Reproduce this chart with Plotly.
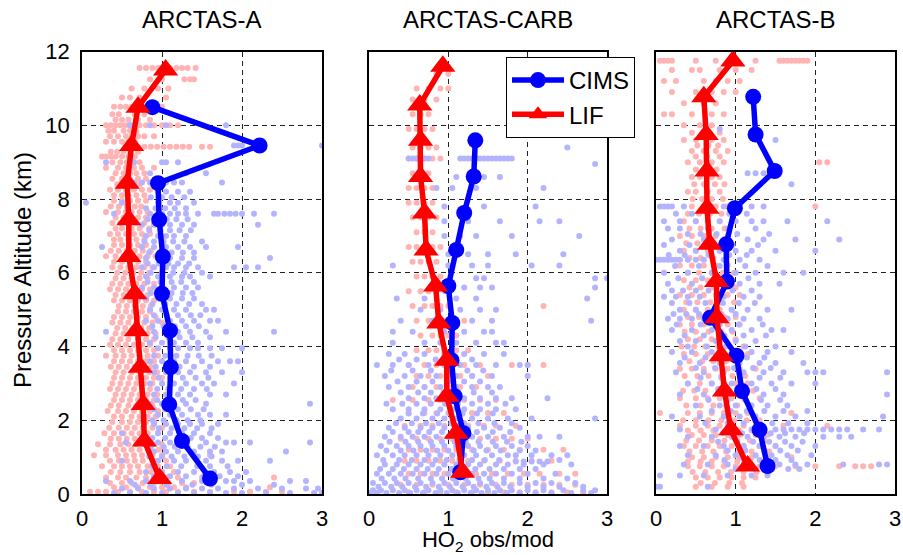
import plotly.graph_objects as go

W, H = 903, 555
PANEL_TITLES = ["ARCTAS-A", "ARCTAS-CARB", "ARCTAS-B"]
X_TICKS = [0, 1, 2, 3]
Y_TICKS = [0, 2, 4, 6, 8, 10, 12]
X_TITLE = "HO<sub>2</sub> obs/mod"
Y_TITLE = "Pressure Altitude (km)"

# ---- mean profiles ----
A_CIMS_ALT = [0.42, 1.44, 2.43, 3.44, 4.43, 5.43, 6.44, 7.44, 8.43, 9.45, 10.49]
A_CIMS_X = [1.60, 1.25, 1.09, 1.11, 1.10, 1.00, 1.01, 0.965, 0.95, 2.22, 0.88]
A_LIF_ALT = [0.42, 1.44, 2.43, 3.44, 4.43, 5.43, 6.44, 7.44, 8.43, 9.45, 10.49, 11.5]
A_LIF_X = [0.97, 0.78, 0.765, 0.73, 0.68, 0.66, 0.585, 0.585, 0.565, 0.62, 0.70, 1.045]

C_CIMS_ALT = [0.59, 1.65, 2.65, 3.63, 4.64, 5.64, 6.62, 7.62, 8.61, 9.59]
C_CIMS_X = [1.15, 1.19, 1.08, 1.04, 1.05, 1.00, 1.10, 1.20, 1.32, 1.34]
C_LIF_ALT = [0.59, 1.65, 2.65, 3.63, 4.64, 5.64, 6.62, 7.62, 8.61, 9.59, 10.55, 11.6]
C_LIF_X = [1.18, 1.10, 0.98, 0.98, 0.88, 0.84, 0.72, 0.70, 0.65, 0.65, 0.64, 0.93]

B_CIMS_ALT = [0.76, 1.74, 2.79, 3.75, 4.78, 5.76, 6.77, 7.75, 8.76, 9.75, 10.77]
B_CIMS_X = [1.40, 1.30, 1.08, 1.01, 0.68, 0.89, 0.88, 0.99, 1.49, 1.25, 1.22]
B_LIF_ALT = [0.76, 1.74, 2.79, 3.75, 4.78, 5.76, 6.77, 7.75, 8.76, 9.75, 10.77, 11.74]
B_LIF_X = [1.15, 0.94, 0.86, 0.82, 0.765, 0.76, 0.675, 0.64, 0.64, 0.63, 0.60, 0.965]

# ---- individual points, rows of (altitude, [ratios]) ----
A_LIF_PTS = [
    (11.55, [0.72, 0.8, 0.88, 0.95, 1.02, 1.1, 1.18, 1.25, 1.32, 1.42]),
    (11.25, [0.85, 1.0, 1.28, 1.35, 1.4]),
    (11.0, [0.62, 0.78, 0.95, 1.08]),
    (10.75, [0.5, 0.6, 0.72, 1.05]),
    (10.5, [0.4, 0.48, 0.55, 0.62, 0.68, 1.0]),
    (10.3, [0.38, 0.46, 0.66, 0.78]),
    (10.15, [0.42, 0.5, 0.58, 0.7, 0.85]),
    (10.0, [0.3, 0.36, 0.42, 0.48, 0.54, 0.6, 0.66, 0.72, 0.8, 0.9, 1.0, 1.1, 1.2]),
    (9.85, [0.33, 0.4, 0.52, 0.6, 0.68]),
    (9.7, [0.35, 0.45, 0.55, 0.62, 0.7, 0.78, 0.9]),
    (9.55, [0.3, 0.4, 0.5, 0.58, 0.66]),
    (9.42, [0.55, 0.62, 0.7, 0.78, 0.86, 0.94, 1.02, 1.1, 1.18, 1.26, 1.34, 1.5, 1.6]),
    (9.28, [0.36, 0.44, 0.52, 0.6, 0.7]),
    (9.15, [0.25, 0.3, 0.36, 0.42, 0.5, 0.58, 0.66]),
    (9.0, [0.38, 0.48, 0.56, 0.64, 0.72]),
    (8.85, [0.3, 0.45, 0.55, 0.65, 0.75, 0.9]),
    (8.7, [0.42, 0.52, 0.6, 0.68, 0.78]),
    (8.55, [0.38, 0.5, 0.6, 0.7, 0.8]),
    (8.4, [0.44, 0.54, 0.62, 0.72]),
    (8.25, [0.35, 0.45, 0.55, 0.65, 0.75, 0.85]),
    (8.1, [0.4, 0.5, 0.58, 0.68, 0.78]),
    (7.95, [0.4, 0.5, 0.6, 0.7, 0.8]),
    (7.8, [0.36, 0.46, 0.56, 0.66, 0.74]),
    (7.65, [0.3, 0.45, 0.55, 0.62, 0.72, 0.82]),
    (7.5, [0.42, 0.52, 0.6, 0.7, 0.8]),
    (7.35, [0.38, 0.48, 0.58, 0.68, 0.78, 0.9]),
    (7.2, [0.42, 0.5, 0.62, 0.72, 0.84]),
    (7.05, [0.35, 0.45, 0.55, 0.65, 0.75, 0.85]),
    (6.9, [0.4, 0.48, 0.58, 0.68, 0.78]),
    (6.75, [0.4, 0.5, 0.6, 0.7, 0.8]),
    (6.6, [0.36, 0.46, 0.56, 0.66, 0.76, 0.86]),
    (6.45, [0.3, 0.42, 0.52, 0.62, 0.72, 0.82, 0.92]),
    (6.3, [0.4, 0.5, 0.6, 0.7, 0.8]),
    (6.15, [0.38, 0.48, 0.58, 0.68, 0.78, 0.88]),
    (6.0, [0.44, 0.54, 0.64, 0.74, 0.84]),
    (5.85, [0.42, 0.52, 0.62, 0.72, 0.82]),
    (5.7, [0.38, 0.48, 0.58, 0.68, 0.78, 0.9]),
    (5.55, [0.35, 0.45, 0.55, 0.65, 0.75, 0.85, 0.95]),
    (5.4, [0.42, 0.52, 0.62, 0.72, 0.82]),
    (5.25, [0.4, 0.5, 0.6, 0.7, 0.8, 0.9]),
    (5.1, [0.46, 0.56, 0.66, 0.76, 0.86]),
    (4.95, [0.45, 0.55, 0.65, 0.75, 0.85]),
    (4.8, [0.4, 0.5, 0.6, 0.7, 0.8, 0.92]),
    (4.65, [0.38, 0.48, 0.58, 0.68, 0.78, 0.88, 1.0]),
    (4.5, [0.44, 0.54, 0.64, 0.74, 0.84]),
    (4.35, [0.42, 0.52, 0.62, 0.72, 0.82, 0.92]),
    (4.2, [0.38, 0.48, 0.58, 0.7, 0.8, 0.9]),
    (4.05, [0.35, 0.45, 0.55, 0.65, 0.75, 0.85]),
    (3.9, [0.4, 0.5, 0.6, 0.7, 0.8, 0.9]),
    (3.75, [0.3, 0.42, 0.52, 0.62, 0.72, 0.82, 0.95]),
    (3.6, [0.4, 0.5, 0.6, 0.7, 0.8, 0.9]),
    (3.45, [0.36, 0.46, 0.56, 0.66, 0.76, 0.86]),
    (3.3, [0.42, 0.52, 0.62, 0.72, 0.84, 0.94]),
    (3.15, [0.4, 0.5, 0.6, 0.7, 0.8, 0.9, 1.0]),
    (3.0, [0.38, 0.48, 0.58, 0.68, 0.78, 0.88]),
    (2.85, [0.35, 0.45, 0.55, 0.65, 0.75, 0.85]),
    (2.7, [0.42, 0.52, 0.62, 0.72, 0.82, 0.94]),
    (2.55, [0.4, 0.5, 0.6, 0.7, 0.8, 0.9, 1.05]),
    (2.4, [0.36, 0.46, 0.58, 0.68, 0.78, 0.88]),
    (2.25, [0.32, 0.45, 0.55, 0.65, 0.75, 0.85, 0.95]),
    (2.1, [0.4, 0.5, 0.62, 0.72, 0.82, 0.92]),
    (1.95, [0.38, 0.5, 0.6, 0.7, 0.8, 0.9]),
    (1.8, [0.34, 0.46, 0.56, 0.66, 0.76, 0.88, 1.0]),
    (1.65, [0.28, 0.4, 0.52, 0.62, 0.72, 0.82, 0.95]),
    (1.5, [0.36, 0.46, 0.56, 0.66, 0.76, 0.86]),
    (1.35, [0.2, 0.35, 0.48, 0.58, 0.68, 0.78, 0.9, 1.0]),
    (1.2, [0.3, 0.42, 0.52, 0.62, 0.72, 0.84, 0.96]),
    (1.05, [0.15, 0.3, 0.45, 0.55, 0.65, 0.75, 0.88, 1.0, 1.6]),
    (0.9, [0.35, 0.46, 0.56, 0.66, 0.76, 0.9, 1.05]),
    (0.75, [0.25, 0.4, 0.5, 0.6, 0.7, 0.82, 0.95, 1.1]),
    (0.6, [0.36, 0.48, 0.6, 0.72, 0.86, 1.0, 1.15]),
    (0.45, [0.3, 0.45, 0.55, 0.68, 0.8, 0.92, 1.05, 1.2, 1.5, 2.4]),
    (0.3, [0.35, 0.5, 0.62, 0.76, 0.9, 1.08, 1.25, 1.4]),
    (0.18, [0.4, 0.55, 0.7, 0.85, 1.0, 1.15, 1.3, 2.35]),
    (0.06, [0.1, 0.2, 0.3, 0.45, 0.6, 0.75, 0.9, 1.05, 1.2, 1.4, 1.6, 1.9, 2.1, 2.3, 2.5]),
]
A_CIMS_PTS = [
    (10.0, [0.6, 0.85, 1.05, 1.8]),
    (9.45, [0.65, 1.9, 1.95, 2.0, 3.0]),
    (9.0, [0.3, 0.65, 1.0, 1.05, 1.2]),
    (8.7, [0.85, 1.3, 1.55]),
    (8.45, [0.5, 0.65, 0.75, 0.85, 1.05, 1.15, 1.25, 1.75]),
    (8.2, [0.95, 1.05, 1.2, 1.35]),
    (8.05, [0.86, 1.0, 1.12, 1.28]),
    (7.9, [0.05, 0.5, 0.95, 1.1, 1.2, 1.4]),
    (7.75, [0.8, 0.92, 1.04, 1.16, 1.3]),
    (7.6, [0.4, 0.6, 0.85, 0.95, 1.0, 1.1, 1.2, 1.3, 1.45, 1.65, 1.7, 1.78, 1.85, 1.92, 2.0, 2.15, 2.4]),
    (7.45, [0.82, 0.94, 1.06, 1.18, 1.32]),
    (7.3, [0.75, 0.9, 1.0, 1.1, 1.25, 1.4, 2.2]),
    (7.15, [0.84, 0.98, 1.1, 1.22, 1.36]),
    (7.0, [0.8, 0.95, 1.05, 1.15, 1.3]),
    (6.85, [0.78, 0.9, 1.02, 1.14, 1.28, 1.5]),
    (6.7, [0.25, 0.75, 0.9, 1.05, 1.2, 1.35, 1.55, 1.95]),
    (6.55, [0.84, 0.98, 1.12, 1.26, 1.4]),
    (6.4, [0.8, 0.95, 1.1, 1.25, 1.4, 2.35]),
    (6.25, [0.82, 0.96, 1.08, 1.2, 1.34]),
    (6.15, [0.75, 0.9, 1.05, 1.15, 1.3, 1.45, 1.9, 2.05, 2.2]),
    (6.0, [0.86, 1.0, 1.14, 1.28, 1.5]),
    (5.9, [0.8, 0.95, 1.1, 1.25, 1.35, 1.6]),
    (5.75, [0.82, 0.98, 1.12, 1.24, 1.4]),
    (5.6, [0.75, 0.9, 1.0, 1.15, 1.3, 1.45]),
    (5.45, [0.86, 1.0, 1.12, 1.26, 1.38]),
    (5.3, [0.8, 0.95, 1.1, 1.25, 1.4]),
    (5.15, [0.88, 1.04, 1.18, 1.34, 1.5]),
    (5.0, [0.85, 1.0, 1.15, 1.3, 1.55, 1.65]),
    (4.85, [0.9, 1.06, 1.2, 1.36, 1.48]),
    (4.7, [0.8, 0.95, 1.1, 1.25, 1.4, 1.6, 1.7]),
    (4.55, [0.88, 1.02, 1.16, 1.3, 1.46]),
    (4.4, [0.3, 0.9, 1.05, 1.2, 1.35, 1.55, 1.8, 2.4]),
    (4.25, [0.92, 1.08, 1.22, 1.38, 1.6]),
    (4.1, [0.85, 1.0, 1.15, 1.3, 1.45]),
    (3.95, [0.95, 1.1, 1.2, 1.35, 1.45, 1.6, 1.75, 2.0]),
    (3.75, [0.9, 1.04, 1.18, 1.32, 1.46, 1.62]),
    (3.6, [0.85, 1.0, 1.15, 1.3, 1.5, 1.7, 1.85, 1.95]),
    (3.45, [0.92, 1.08, 1.22, 1.4, 1.6]),
    (3.3, [0.9, 1.05, 1.2, 1.35, 1.55, 1.75, 2.0]),
    (3.15, [0.96, 1.1, 1.26, 1.42, 1.58]),
    (3.0, [0.85, 1.0, 1.15, 1.3, 1.5, 1.65, 1.9]),
    (2.85, [0.94, 1.08, 1.24, 1.4, 1.56]),
    (2.7, [0.9, 1.05, 1.2, 1.35, 1.6, 1.8]),
    (2.55, [0.94, 1.1, 1.26, 1.42]),
    (2.45, [0.85, 1.0, 1.15, 1.3, 1.55, 2.85]),
    (2.3, [0.9, 1.04, 1.2, 1.36, 1.52]),
    (2.15, [0.95, 1.1, 1.25, 1.45, 1.6, 1.8]),
    (2.0, [0.88, 1.02, 1.18, 1.32, 1.48]),
    (1.9, [0.9, 1.05, 1.2, 1.35, 1.5, 1.7]),
    (1.78, [0.96, 1.12, 1.28, 1.44, 1.62]),
    (1.65, [0.5, 0.95, 1.1, 1.25, 1.4, 1.6]),
    (1.52, [0.88, 1.04, 1.2, 1.36, 1.5, 1.7]),
    (1.4, [0.55, 0.95, 1.1, 1.3, 1.55, 1.8, 1.9, 2.1, 2.85]),
    (1.28, [0.86, 1.02, 1.16, 1.32, 1.48, 1.66]),
    (1.15, [0.9, 1.05, 1.2, 1.4, 1.6, 1.75, 2.55]),
    (1.02, [0.84, 1.0, 1.12, 1.28, 1.45, 1.62]),
    (0.9, [0.5, 0.95, 1.15, 1.3, 1.55, 1.75, 1.95, 2.35]),
    (0.75, [0.88, 1.06, 1.24, 1.44, 1.6, 1.82]),
    (0.6, [0.8, 1.0, 1.2, 1.4, 1.65, 1.85, 2.05]),
    (0.48, [0.9, 1.1, 1.3, 1.52, 1.72, 1.95]),
    (0.35, [0.3, 0.6, 0.8, 1.0, 1.25, 1.5, 1.8, 1.9, 2.1, 2.6, 2.8]),
    (0.25, [0.66, 0.86, 1.06, 1.38, 1.62, 2.0, 2.4]),
    (0.15, [0.5, 0.7, 0.9, 1.1, 1.3, 1.5, 1.7, 1.9, 2.2, 2.5, 2.8, 2.95]),
    (0.03, [0.4, 0.6, 0.8, 1.0, 1.2, 1.4, 1.6, 1.8, 2.0, 2.3, 2.6, 2.9, 3.0]),
]

C_LIF_PTS = [
    (11.4, [0.85, 1.0]),
    (11.0, [0.6, 0.75, 0.9, 1.0]),
    (10.7, [0.55, 0.7, 0.85]),
    (10.3, [0.55, 0.65, 0.75]),
    (9.9, [0.5, 0.6, 0.7, 0.8]),
    (9.4, [0.55, 0.65, 0.75, 0.85]),
    (9.1, [0.5, 0.6, 0.7, 0.8, 0.9]),
    (8.7, [0.55, 0.65, 0.75]),
    (8.3, [0.5, 0.6, 0.7, 0.8]),
    (7.9, [0.5, 0.6, 0.7, 0.8]),
    (7.5, [0.55, 0.65, 0.75, 0.85]),
    (7.1, [0.6, 0.7, 0.8]),
    (6.7, [0.5, 0.6, 0.7, 0.8, 0.9]),
    (6.3, [0.55, 0.65, 0.75, 0.85]),
    (5.9, [0.6, 0.7, 0.8, 0.9]),
    (5.5, [0.5, 0.65, 0.75, 0.85, 0.95]),
    (5.1, [0.55, 0.7, 0.8, 0.9, 1.0, 2.2]),
    (4.7, [0.6, 0.75, 0.85, 0.95, 1.05, 1.2]),
    (4.3, [0.65, 0.8, 0.9, 1.0, 1.1]),
    (3.9, [0.6, 0.75, 0.85, 0.95, 1.1, 1.25]),
    (3.5, [0.5, 0.7, 0.85, 0.95, 1.05, 1.2, 1.4, 1.8, 2.0, 2.2]),
    (3.2, [0.6, 0.75, 0.9, 1.0, 1.15, 1.3, 1.5]),
    (2.9, [0.55, 0.7, 0.85, 1.0, 1.15, 1.35]),
    (2.55, [0.3, 0.55, 0.75, 0.9, 1.05, 1.2, 1.4, 1.6]),
    (2.2, [0.5, 0.7, 0.85, 1.0, 1.15, 1.3, 1.5, 1.7]),
    (1.85, [0.45, 0.65, 0.8, 0.95, 1.1, 1.25, 1.45, 1.6, 1.85]),
    (1.5, [0.4, 0.6, 0.75, 0.9, 1.05, 1.2, 1.4, 1.6, 1.8, 2.0]),
    (1.2, [0.5, 0.65, 0.8, 0.95, 1.1, 1.3, 1.5, 1.7, 1.9, 2.2, 2.45]),
    (0.9, [0.45, 0.6, 0.75, 0.9, 1.05, 1.25, 1.45, 1.65, 1.85, 2.05, 2.3]),
    (0.55, [0.5, 0.65, 0.8, 0.95, 1.15, 1.35, 1.55, 1.75, 1.95, 2.15, 2.4, 2.6]),
    (0.25, [0.4, 0.6, 0.8, 1.0, 1.2, 1.4, 1.6, 1.8, 2.0, 2.2, 2.4, 2.6]),
    (0.05, [0.5, 0.7, 0.9, 1.1, 1.3, 1.5, 1.7, 1.9, 2.1, 2.3, 2.5, 2.7]),
]
C_CIMS_PTS = [
    (9.4, [2.5]),
    (9.1, [0.5, 0.55, 0.6, 0.65, 0.7, 0.75, 1.15, 1.2, 1.25, 1.3, 1.35, 1.4, 1.45, 1.5, 1.55, 1.6, 1.65, 1.7, 1.75, 1.8]),
    (8.95, [2.85]),
    (8.6, [1.1, 1.45, 1.65]),
    (8.3, [0.85, 1.05, 1.35, 2.2]),
    (7.8, [0.95, 1.45, 2.1]),
    (7.4, [0.95, 1.25, 1.65, 2.15, 2.4]),
    (7.0, [0.95, 1.15, 1.35, 1.8, 2.65]),
    (6.5, [1.0, 1.25, 1.5, 1.85, 2.45]),
    (6.2, [0.3, 1.0, 1.3, 1.5, 2.05, 2.4]),
    (5.85, [1.35, 1.45, 2.85, 3.0]),
    (5.6, [0.95, 1.2, 1.4, 1.55, 2.85]),
    (5.3, [0.35, 0.7, 1.1, 1.35, 2.75]),
    (5.0, [0.65, 0.9, 1.15, 1.4, 1.6]),
    (4.7, [0.4, 0.8, 1.05, 1.3, 1.55, 2.8]),
    (4.4, [0.3, 0.55, 0.95, 1.2, 1.45, 1.55]),
    (4.1, [0.3, 0.7, 0.9, 1.1, 1.35, 1.6, 1.7]),
    (3.8, [0.25, 0.45, 0.7, 0.95, 1.2, 1.45, 1.7]),
    (3.65, [0.38, 0.6, 0.84, 1.08, 1.3]),
    (3.5, [0.1, 0.3, 0.5, 0.75, 0.95, 1.15, 1.35, 1.6, 1.9, 2.0]),
    (3.35, [0.28, 0.55, 0.78, 1.02, 1.24, 1.44]),
    (3.2, [0.2, 0.45, 0.65, 0.85, 1.1, 1.3, 1.55, 2.0]),
    (3.05, [0.36, 0.6, 0.8, 1.0, 1.2, 1.4]),
    (2.9, [0.25, 0.5, 0.7, 0.9, 1.1, 1.3, 1.5, 1.65]),
    (2.75, [0.4, 0.62, 0.78, 0.94, 1.12, 1.32, 1.55]),
    (2.6, [0.5, 0.7, 0.85, 1.0, 1.2, 1.4, 1.6, 1.8, 2.25]),
    (2.45, [0.22, 0.42, 0.6, 0.78, 0.96, 1.12, 1.3, 1.5, 1.72]),
    (2.3, [0.3, 0.5, 0.7, 0.9, 1.05, 1.2, 1.4, 1.6, 1.85]),
    (2.18, [0.5, 0.68, 0.86, 1.02, 1.18, 1.36, 1.56]),
    (2.05, [0.4, 0.6, 0.8, 0.95, 1.1, 1.3, 1.5, 1.75, 2.05, 2.85]),
    (1.92, [0.34, 0.54, 0.72, 0.88, 1.04, 1.2, 1.38, 1.58, 1.8]),
    (1.8, [0.25, 0.45, 0.65, 0.8, 0.95, 1.1, 1.25, 1.45, 1.65, 1.9]),
    (1.68, [0.3, 0.5, 0.62, 0.76, 0.92, 1.06, 1.2, 1.36, 1.56, 1.78]),
    (1.55, [0.2, 0.4, 0.55, 0.7, 0.85, 1.0, 1.15, 1.3, 1.5, 1.7, 2.0, 2.15, 2.4]),
    (1.42, [0.26, 0.46, 0.62, 0.78, 0.92, 1.08, 1.22, 1.38, 1.56, 1.74, 1.92]),
    (1.3, [0.15, 0.35, 0.5, 0.65, 0.8, 0.95, 1.1, 1.25, 1.4, 1.6, 1.8, 2.0]),
    (1.18, [0.22, 0.4, 0.56, 0.72, 0.86, 1.0, 1.16, 1.32, 1.48, 1.66, 1.9, 2.1]),
    (1.05, [0.1, 0.3, 0.45, 0.6, 0.75, 0.9, 1.05, 1.2, 1.35, 1.55, 1.75, 1.85, 2.05, 2.3, 2.5]),
    (0.92, [0.18, 0.38, 0.54, 0.7, 0.84, 0.98, 1.14, 1.3, 1.46, 1.64, 2.4]),
    (0.88, [1.85, 1.95, 2.05, 2.15, 2.25]),
    (0.8, [0.2, 0.35, 0.5, 0.65, 0.8, 0.95, 1.1, 1.25, 1.4, 1.6, 1.75, 1.95, 2.2, 2.55]),
    (0.68, [0.14, 0.3, 0.44, 0.6, 0.74, 0.88, 1.04, 1.18, 1.34, 1.52, 1.7, 1.9, 2.1]),
    (0.55, [0.1, 0.25, 0.4, 0.55, 0.7, 0.85, 1.0, 1.15, 1.3, 1.45, 1.6, 1.8, 2.0, 2.35]),
    (0.42, [0.16, 0.32, 0.46, 0.62, 0.78, 0.92, 1.06, 1.22, 1.38, 1.52, 1.7, 1.9, 2.2, 2.5]),
    (0.3, [0.05, 0.2, 0.35, 0.5, 0.65, 0.8, 0.95, 1.1, 1.25, 1.4, 1.55, 1.7, 1.9, 2.1, 2.3, 2.6]),
    (0.2, [0.12, 0.28, 0.42, 0.58, 0.72, 0.88, 1.02, 1.18, 1.32, 1.48, 1.62, 1.78, 2.0, 2.2, 2.4, 2.7]),
    (0.1, [0.05, 0.15, 0.3, 0.45, 0.6, 0.75, 0.9, 1.05, 1.2, 1.35, 1.5, 1.65, 1.8, 2.0, 2.2, 2.45, 2.7, 2.85]),
    (0.03, [0.02, 0.1, 0.22, 0.38, 0.52, 0.68, 0.84, 0.98, 1.12, 1.28, 1.42, 1.58, 1.74, 1.9, 2.1, 2.3, 2.55, 2.8]),
]

B_LIF_PTS = [
    (11.75, [0.05, 0.1, 0.15, 0.2, 0.5, 0.75, 0.95, 1.25, 1.55, 1.6, 1.65, 1.7, 1.75, 1.8, 1.85, 1.9]),
    (11.5, [0.2, 0.45, 0.55, 0.8, 1.0, 1.2]),
    (11.2, [0.1, 0.25, 0.6, 0.75, 0.9, 1.05]),
    (10.9, [0.2, 0.5, 0.7, 0.85, 1.0]),
    (10.6, [0.35, 0.6, 0.75]),
    (10.3, [0.1, 0.2, 0.45, 0.7, 0.85]),
    (10.0, [0.35, 0.55, 0.7]),
    (9.8, [0.45, 0.62, 0.8]),
    (9.6, [0.35, 0.5, 0.7, 0.85]),
    (9.45, [0.52, 0.66, 0.78]),
    (9.3, [0.45, 0.6, 0.75, 0.9]),
    (9.15, [0.5, 0.64, 0.8]),
    (9.0, [0.4, 0.55, 0.7, 0.85, 2.05, 2.15]),
    (8.8, [0.5, 0.62, 0.76]),
    (8.6, [0.45, 0.55, 0.7, 0.8]),
    (8.4, [0.48, 0.6, 0.74, 0.86]),
    (8.2, [0.4, 0.5, 0.65, 0.8]),
    (8.0, [0.46, 0.58, 0.7, 0.84]),
    (7.8, [0.45, 0.6, 0.75, 0.9, 2.0]),
    (7.6, [0.4, 0.54, 0.68, 0.82]),
    (7.4, [0.35, 0.5, 0.65, 0.8]),
    (7.2, [0.42, 0.56, 0.7, 0.86]),
    (7.0, [0.3, 0.45, 0.6, 0.75, 0.9]),
    (6.8, [0.38, 0.52, 0.68, 0.84]),
    (6.6, [0.35, 0.5, 0.65, 0.8]),
    (6.4, [0.42, 0.56, 0.72, 0.88]),
    (6.2, [0.3, 0.45, 0.6, 0.75, 0.9]),
    (6.0, [0.4, 0.54, 0.7, 0.84, 0.98]),
    (5.8, [0.35, 0.5, 0.65, 0.8, 0.95]),
    (5.6, [0.42, 0.56, 0.72, 0.86, 1.0]),
    (5.4, [0.3, 0.45, 0.6, 0.75, 0.9, 1.05]),
    (5.2, [0.38, 0.52, 0.68, 0.82, 0.98]),
    (5.0, [0.35, 0.5, 0.65, 0.8, 0.95]),
    (4.8, [0.4, 0.54, 0.7, 0.86, 1.0]),
    (4.6, [0.3, 0.45, 0.6, 0.75, 0.9, 1.05]),
    (4.4, [0.36, 0.5, 0.66, 0.82, 0.96]),
    (4.2, [0.4, 0.55, 0.7, 0.85, 1.0]),
    (4.0, [0.32, 0.48, 0.62, 0.78, 0.92, 1.1]),
    (3.8, [0.35, 0.5, 0.65, 0.8, 0.95, 1.15]),
    (3.6, [0.42, 0.58, 0.72, 0.88, 1.02]),
    (3.4, [0.3, 0.45, 0.6, 0.75, 0.9, 1.05, 1.25]),
    (3.2, [0.36, 0.52, 0.66, 0.82, 0.96, 1.12]),
    (3.0, [0.4, 0.55, 0.7, 0.85, 1.0, 1.15]),
    (2.8, [0.34, 0.48, 0.62, 0.78, 0.92, 1.08, 1.22]),
    (2.6, [0.3, 0.5, 0.65, 0.8, 0.95, 1.1, 1.3]),
    (2.4, [0.38, 0.56, 0.72, 0.88, 1.02, 1.18]),
    (2.2, [0.05, 0.4, 0.55, 0.7, 0.85, 1.0, 1.15, 1.7]),
    (2.0, [0.34, 0.5, 0.66, 0.82, 0.98, 1.14, 1.3]),
    (1.85, [0.3, 0.5, 0.65, 0.8, 0.95, 1.1, 1.3, 1.6, 2.15]),
    (1.72, [0.4, 0.56, 0.72, 0.88, 1.04, 1.2, 1.36]),
    (1.6, [0.45, 0.6, 0.75, 0.9, 1.05, 1.25, 1.4]),
    (1.45, [0.38, 0.54, 0.7, 0.86, 1.02, 1.18, 1.36]),
    (1.3, [0.35, 0.5, 0.65, 0.8, 0.95, 1.1, 1.3, 1.5]),
    (1.15, [0.42, 0.58, 0.72, 0.88, 1.04, 1.2, 1.42]),
    (1.0, [0.45, 0.6, 0.75, 0.9, 1.05, 1.2, 1.4, 1.7]),
    (0.88, [0.4, 0.56, 0.7, 0.86, 1.02, 1.18, 1.34]),
    (0.75, [0.4, 0.55, 0.7, 0.85, 1.0, 1.15, 1.3, 1.5, 1.75, 2.0, 2.3, 2.5, 2.6, 2.7]),
    (0.6, [0.46, 0.62, 0.78, 0.94, 1.1, 1.26]),
    (0.45, [0.5, 0.65, 0.8, 0.95, 1.1, 1.25]),
    (0.3, [0.56, 0.74, 0.92, 1.08]),
    (0.2, [0.5, 0.7, 0.9, 1.1]),
]
B_CIMS_PTS = [
    (9.9, [0.8]),
    (9.6, [1.5]),
    (8.7, [1.15, 1.25, 1.35]),
    (8.4, [1.7]),
    (7.8, [0.05, 0.1, 0.15, 0.2, 0.35, 0.6, 0.7, 0.85, 1.05, 1.2, 1.35]),
    (7.6, [0.25, 0.45, 0.66, 0.92, 1.14]),
    (7.4, [0.1, 0.3, 0.5, 0.8, 1.0, 1.2, 1.35, 1.65, 2.15]),
    (7.2, [0.15, 0.3, 0.65, 0.9, 1.25]),
    (7.05, [0.4, 0.56, 0.76, 1.02, 1.42]),
    (6.9, [0.2, 0.6, 0.9, 1.15, 1.35, 1.75, 2.3]),
    (6.75, [0.1, 0.42, 0.7, 0.96, 1.28]),
    (6.6, [0.3, 0.5, 0.8, 1.0, 1.2, 1.5, 2.0]),
    (6.48, [0.16, 0.36, 0.66, 0.92, 1.14]),
    (6.35, [0.0, 0.05, 0.1, 0.15, 0.2, 0.25, 0.3, 0.4, 0.5, 0.6, 0.85, 1.05, 1.3]),
    (6.18, [0.24, 0.54, 0.8, 1.12, 1.4]),
    (6.0, [0.1, 0.4, 0.7, 1.0, 1.25, 1.6, 1.85]),
    (5.85, [0.28, 0.58, 0.88, 1.16]),
    (5.7, [0.15, 0.45, 0.75, 1.05, 1.3, 1.55]),
    (5.52, [0.2, 0.34, 0.5, 0.66, 0.96, 1.2]),
    (5.35, [0.1, 0.25, 0.4, 0.55, 0.85, 1.1, 1.3]),
    (5.18, [0.2, 0.42, 0.62, 0.84, 1.04, 1.24]),
    (5.0, [0.3, 0.5, 0.75, 0.95, 1.15, 1.4, 1.7]),
    (4.88, [0.22, 0.38, 0.54, 0.7, 0.82, 1.0]),
    (4.75, [0.15, 0.3, 0.45, 0.6, 0.9, 1.1, 1.3]),
    (4.6, [0.26, 0.56, 0.8, 1.04, 1.34]),
    (4.45, [0.2, 0.45, 0.7, 0.95, 1.2, 1.45, 1.6]),
    (4.3, [0.36, 0.6, 0.86, 1.1, 1.38]),
    (4.15, [0.3, 0.5, 0.75, 1.0, 1.25]),
    (4.0, [0.4, 0.64, 0.88, 1.12, 1.5]),
    (3.85, [0.2, 0.45, 0.7, 0.95, 1.2, 1.4, 1.7]),
    (3.7, [0.36, 0.62, 0.9, 1.14, 1.36]),
    (3.55, [0.3, 0.55, 0.8, 1.05, 1.3, 1.5, 1.85]),
    (3.42, [0.5, 0.74, 0.98, 1.22, 1.44]),
    (3.3, [0.25, 0.6, 0.85, 1.1, 1.35, 1.6, 1.9, 2.0, 2.1, 2.9]),
    (3.15, [0.56, 0.82, 1.06, 1.3, 1.56]),
    (3.0, [0.4, 0.7, 0.95, 1.2, 1.45, 1.7, 2.0]),
    (2.85, [0.52, 0.78, 1.02, 1.26, 1.5]),
    (2.7, [0.3, 0.6, 0.85, 1.1, 1.35, 1.6, 2.9]),
    (2.55, [0.66, 0.9, 1.12, 1.32, 1.56]),
    (2.4, [0.5, 0.8, 1.0, 1.2, 1.4, 1.65]),
    (2.25, [0.7, 0.94, 1.14, 1.36, 1.6, 1.9]),
    (2.1, [0.2, 0.55, 0.85, 1.05, 1.25, 1.5, 1.75, 2.85]),
    (1.92, [0.62, 0.9, 1.1, 1.28, 1.46, 1.66, 1.9]),
    (1.75, [0.3, 0.75, 1.0, 1.2, 1.35, 1.5, 1.6, 1.7, 1.8, 1.9, 2.0, 2.1, 2.2, 2.3, 2.4, 2.6, 2.8]),
    (1.65, [0.84, 1.08, 1.26, 1.44, 1.62, 1.86]),
    (1.55, [0.4, 0.7, 0.95, 1.15, 1.35, 1.55, 1.75, 2.1, 2.3, 2.45]),
    (1.42, [0.78, 1.02, 1.22, 1.42, 1.62, 1.84]),
    (1.3, [0.3, 0.6, 0.85, 1.1, 1.3, 1.5, 1.7, 2.0]),
    (1.18, [0.9, 1.12, 1.36, 1.56, 1.78]),
    (1.05, [0.4, 0.75, 1.0, 1.25, 1.45, 1.65, 1.95]),
    (0.92, [0.86, 1.1, 1.3, 1.5, 1.7]),
    (0.8, [0.35, 0.65, 0.9, 1.15, 1.35, 1.55, 1.75, 1.9, 2.35, 2.8, 2.9]),
    (0.68, [1.0, 1.24, 1.46, 1.66, 1.8]),
    (0.5, [0.05, 0.3, 0.6, 0.9, 1.2, 1.4]),
    (0.2, [0.0, 0.05, 0.65]),
]

PINK = "#FFB3B3"
LBLUE = "#B3B3FF"
BLUE = "#0000FF"
RED = "#FF0000"
FONT = "Liberation Sans, Arial, sans-serif"


def flat(rows):
    xs, ys = [], []
    for alt, vals in rows:
        for v in vals:
            xs.append(v)
            ys.append(alt)
    return xs, ys


panels = [
    (A_LIF_PTS, A_CIMS_PTS, A_CIMS_X, A_CIMS_ALT, A_LIF_X, A_LIF_ALT),
    (C_LIF_PTS, C_CIMS_PTS, C_CIMS_X, C_CIMS_ALT, C_LIF_X, C_LIF_ALT),
    (B_LIF_PTS, B_CIMS_PTS, B_CIMS_X, B_CIMS_ALT, B_LIF_X, B_LIF_ALT),
]

XDOM = [(82 / W, 322 / W), (369 / W, 607 / W), (656 / W, 895 / W)]
YDOM = (1 - 494 / H, 1 - 51.5 / H)

fig = go.Figure()
for i, (lif_pts, cims_pts, cx, cy, lx, ly) in enumerate(panels):
    xa = "x" if i == 0 else f"x{i+1}"
    ya = "y" if i == 0 else f"y{i+1}"
    px, py = flat(lif_pts)
    fig.add_trace(go.Scatter(x=px, y=py, mode="markers", xaxis=xa, yaxis=ya,
                             marker=dict(color=PINK, size=6), showlegend=False, hoverinfo="skip"))
    bx, by = flat(cims_pts)
    fig.add_trace(go.Scatter(x=bx, y=by, mode="markers", xaxis=xa, yaxis=ya,
                             marker=dict(color=LBLUE, size=6), showlegend=False, hoverinfo="skip"))
    fig.add_trace(go.Scatter(x=cx, y=cy, mode="lines+markers", xaxis=xa, yaxis=ya, name="CIMS",
                             line=dict(color=BLUE, width=5.5),
                             marker=dict(color=BLUE, size=16, symbol="circle"),
                             showlegend=(i == 1)))
    fig.add_trace(go.Scatter(x=lx, y=ly, mode="lines+markers", xaxis=xa, yaxis=ya, name="LIF",
                             line=dict(color=RED, width=5.5),
                             marker=dict(color=RED, size=22, symbol="triangle-up"),
                             showlegend=(i == 1)))

axis_common = dict(showline=True, linecolor="black", linewidth=1.5, mirror=True,
                   showgrid=True, gridcolor="#222222", gridwidth=1, griddash="5px,4px",
                   zeroline=False, ticks="", tickfont=dict(size=22, color="black", family=FONT))

layout = dict(width=W, height=H, margin=dict(l=0, r=0, t=0, b=0),
              paper_bgcolor="white", plot_bgcolor="white",
              font=dict(family=FONT, color="black"), hovermode=False)
for i in range(3):
    xk = "xaxis" if i == 0 else f"xaxis{i+1}"
    yk = "yaxis" if i == 0 else f"yaxis{i+1}"
    ya = "y" if i == 0 else f"y{i+1}"
    xa = "x" if i == 0 else f"x{i+1}"
    layout[xk] = dict(axis_common, domain=list(XDOM[i]), range=[0, 3], tickvals=X_TICKS,
                      anchor=ya, ticklabelstandoff=4, automargin=False)
    layout[yk] = dict(axis_common, domain=list(YDOM), range=[0, 12], tickvals=Y_TICKS,
                      anchor=xa, showticklabels=(i == 0), ticklabelstandoff=6, automargin=False)
layout["xaxis2"]["title"] = dict(text=X_TITLE, standoff=6,
                                 font=dict(size=22, family=FONT, color="black"))
fig.update_layout(**layout)

ann = []
for i, t in enumerate(PANEL_TITLES):
    ann.append(dict(text=t, x=(XDOM[i][0] + XDOM[i][1]) / 2, y=1 - 20 / H, xref="paper", yref="paper",
                    showarrow=False, font=dict(size=24, family=FONT, color="black"),
                    xanchor="center", yanchor="middle"))
ann.append(dict(text=Y_TITLE, x=22 / W, y=1 - 270 / H, xref="paper", yref="paper", showarrow=False,
                textangle=-90, font=dict(size=24, family=FONT, color="black"),
                xanchor="center", yanchor="middle"))
fig.update_layout(annotations=ann)

fig.update_layout(legend=dict(x=506 / W, y=1 - 57 / H, xanchor="left", yanchor="top",
                              bordercolor="black", borderwidth=1, bgcolor="white",
                              font=dict(size=24, family=FONT, color="black"),
                              itemwidth=52, tracegroupgap=0))

fig.write_html("out.html", config={"displayModeBar": False})
